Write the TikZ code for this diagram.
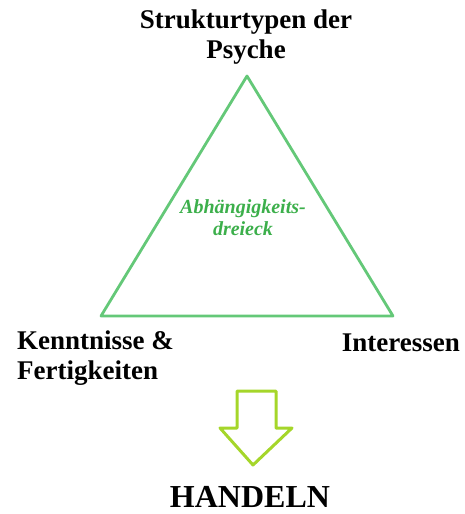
\documentclass[tikz,border=0pt]{standalone}
\usepackage{fontspec}
\setmainfont{Liberation Serif}
\definecolor{trigreen}{RGB}{100,200,120}
\definecolor{txtgreen}{RGB}{60,175,75}
\definecolor{arrgreen}{RGB}{165,214,42}
\begin{document}
\begin{tikzpicture}[x=1pt,y=-1pt,
  lbl/.style={font=\bfseries\fontsize{27}{30}\selectfont, align=center, inner sep=0pt},
  lblleft/.style={font=\bfseries\fontsize{27}{30}\selectfont, align=left, inner sep=0pt}]
\useasboundingbox (0,0) rectangle (465,514);
\coordinate (A) at (247,76);
\coordinate (B) at (101,316);
\coordinate (C) at (393,316);
\draw[trigreen, line width=2.8pt, line join=round] (A) -- (B) -- (C) -- cycle;
\node[lbl] (top) at (246,37) {Strukturtypen der\\Psyche};
\node[lblleft, anchor=west] (left) at (17,358) {Kenntnisse \&\\Fertigkeiten};
\node[lbl, anchor=east] (right) at (460,343) {Interessen};
\node[font=\bfseries\itshape\fontsize{20}{22}\selectfont, text=txtgreen, align=center, inner sep=0pt] (mid) at (243,218) {Abhängigkeits-\\dreieck};
\draw[arrgreen, line width=3pt, line join=round]
  (237,391) -- (276,391) -- (276,428) -- (292,428) -- (253,465) -- (220,428) -- (237,428) -- cycle;
\node[font=\bfseries\fontsize{32}{34}\selectfont, inner sep=0pt] (act) at (250,497) {HANDELN};
\end{tikzpicture}
\end{document}
